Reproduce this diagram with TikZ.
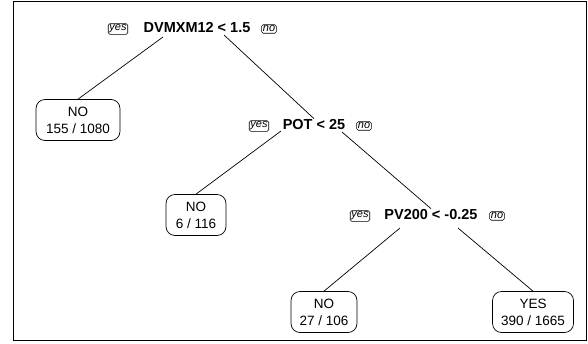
\documentclass[tikz,border=0pt]{standalone}
\usepackage{fontspec}
\setmainfont{Liberation Sans}
\begin{document}
\begin{tikzpicture}[x=1pt,y=-1pt,
  split/.style={font=\bfseries\fontsize{14.5}{16}\selectfont, inner sep=1pt},
  leaf/.style={draw, rounded corners=9pt, align=center, font=\fontsize{13.5}{17}\selectfont, inner sep=2pt, minimum width=60pt, minimum height=41pt, line width=0.7pt},
  yn/.style={draw, rounded corners=1.5pt, font=\itshape\fontsize{11}{12}\selectfont, inner sep=1.2pt, line width=0.6pt},
  edge/.style={line width=0.7pt}]
\useasboundingbox (0,0) rectangle (588,343);
\draw[line width=1pt] (13,1) rectangle (586,340);
% root
\node[split] (root) at (197,28) {DVMXM12 < 1.5};
\node[yn] (rootyes) at (118,29) {yes};
\node[yn] (rootno) at (269,29) {no};
% leaf 1
\node[leaf, minimum width=84pt] (l1) at (78,120) {NO\\155 / 1080};
% POT
\node[split] (pot) at (314,125) {POT < 25};
\node[yn] (potyes) at (259,126) {yes};
\node[yn] (potno) at (364,126) {no};
% leaf 2
\node[leaf] (l2) at (196,215) {NO\\6 / 116};
% PV200
\node[split] (pv) at (431,215) {PV200 < -0.25};
\node[yn] (pvyes) at (360,216) {yes};
\node[yn] (pvno) at (497,216) {no};
% leaves 3,4
\node[leaf, minimum width=66pt] (l3) at (324,312) {NO\\27 / 106};
\node[leaf, minimum width=81pt] (l4) at (533,312) {YES\\390 / 1665};
% edges
\coordinate (r1) at (163,37);
\coordinate (r2) at (224,35);
\coordinate (p1) at (281,131);
\coordinate (p2) at (342,132);
\coordinate (v1) at (400,228);
\coordinate (v2) at (458,228);
\draw[edge] (r1) -- (l1.north);
\draw[edge] (r2) -- (pot.north);
\draw[edge] (p1) -- (l2.north);
\draw[edge] (p2) -- (pv.north);
\draw[edge] (v1) -- (l3.north);
\draw[edge] (v2) -- (l4.north);
\end{tikzpicture}
\end{document}
